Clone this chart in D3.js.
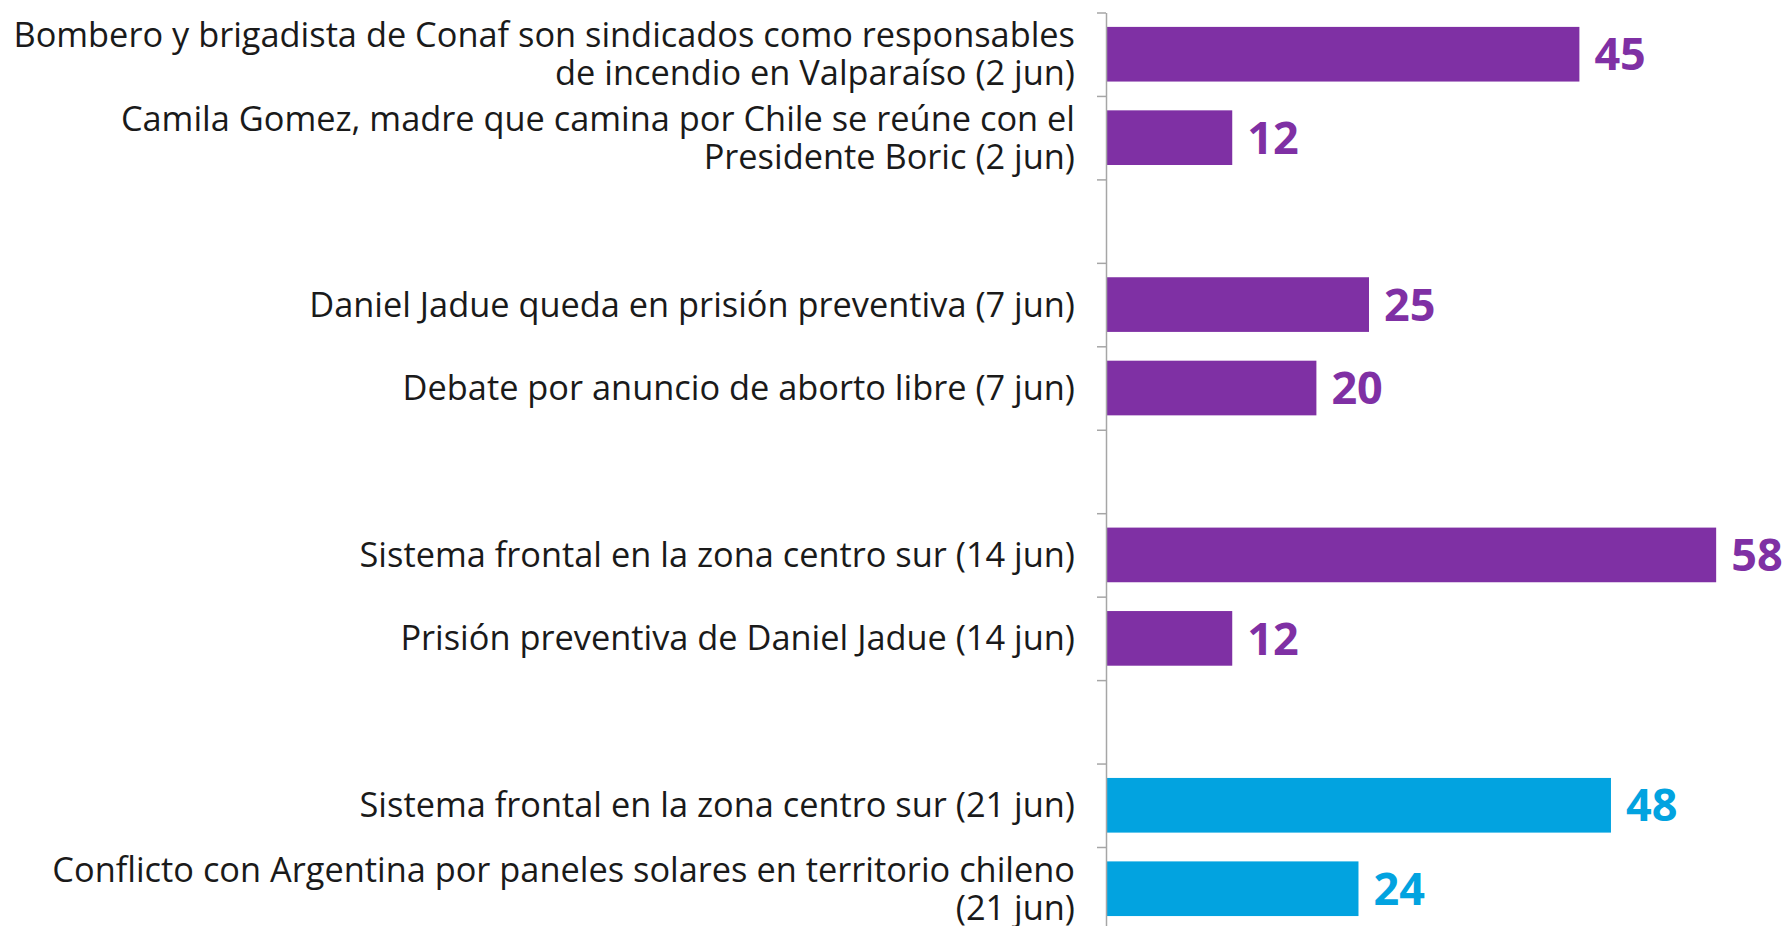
<!DOCTYPE html>
<html>
<head>
<meta charset="utf-8">
<script src="https://cdn.jsdelivr.net/npm/d3@7"></script>
<style>
  html, body { margin: 0; padding: 0; background: #ffffff; }
  svg { display: block; }
</style>
</head>
<body>
<svg id="chart" width="1788" height="926"></svg>
<script>
// ---- data ----
const labels = [
  ["Bombero y brigadista de Conaf son sindicados como responsables", "de incendio en Valparaíso (2 jun)"],
  ["Camila Gomez, madre que camina por Chile se reúne con el", "Presidente Boric (2 jun)"],
  ["Daniel Jadue queda en prisión preventiva (7 jun)"],
  ["Debate por anuncio de aborto libre (7 jun)"],
  ["Sistema frontal en la zona centro sur (14 jun)"],
  ["Prisión preventiva de Daniel Jadue (14 jun)"],
  ["Sistema frontal en la zona centro sur (21 jun)"],
  ["Conflicto con Argentina por paneles solares en territorio chileno", "(21 jun)"]
];
const values = [45, 12, 25, 20, 58, 12, 48, 24];
const weeks = ["2 jun", "2 jun", "7 jun", "7 jun", "14 jun", "14 jun", "21 jun", "21 jun"];
const currentWeek = "21 jun";

(function () {
// ---- build rows with a blank spacer between weeks ----
const rows = [];
labels.forEach((lab, i) => {
  if (i > 0 && weeks[i] !== weeks[i - 1]) rows.push({ key: "gap" + i, spacer: true });
  rows.push({ key: "item" + i, lines: lab, value: values[i], week: weeks[i] });
});
const items = rows.filter(r => !r.spacer);

const axisX = 1106;
const plotTop = 12.5, step = 83.45;
const n = rows.length;

const svg = d3.select("#chart");

const y = d3.scaleBand()
  .domain(rows.map(r => r.key))
  .range([plotTop, plotTop + n * step])
  .paddingInner(0.345)
  .paddingOuter(0.1725);

const yEdge = d3.scaleLinear().domain([0, n]).range([plotTop, plotTop + n * step]);

const x = d3.scaleLinear().domain([0, 60]).range([axisX, axisX + 60 * 10.52]);

const colorPurple = "#7F30A4";
const colorBlue = "#02A3E0";
const color = d => d.week === currentWeek ? colorBlue : colorPurple;

// bars
svg.append("g").selectAll("rect")
  .data(items)
  .join("rect")
  .attr("x", x(0))
  .attr("y", d => y(d.key))
  .attr("width", d => x(d.value) - x(0))
  .attr("height", y.bandwidth())
  .attr("fill", color);

// axis (ticks at band edges)
const axis = d3.axisLeft(yEdge)
  .tickValues(d3.range(0, n + 1))
  .tickFormat("")
  .tickSizeInner(9)
  .tickSizeOuter(0);
const gAxis = svg.append("g")
  .attr("transform", `translate(${axisX},0)`)
  .call(axis);
gAxis.select(".domain").attr("stroke", "#a6a6a6").attr("stroke-width", 1.5);
gAxis.selectAll(".tick line").attr("stroke", "#a6a6a6").attr("stroke-width", 1.5);

// value labels
svg.append("g").selectAll("text")
  .data(items)
  .join("text")
  .attr("x", d => x(d.value) + 15)
  .attr("y", d => y(d.key) + y.bandwidth() / 2)
  .attr("dy", "0.36em")
  .attr("font-family", "'Open Sans', 'DejaVu Sans', sans-serif")
  .attr("font-weight", 700)
  .attr("font-size", 45)
  .attr("fill", color)
  .text(d => d.value);

// category labels
const labelFont = "'Open Sans', 'DejaVu Sans', sans-serif";
let labelSize = 30;
const probe = svg.append("text").attr("font-family", labelFont).attr("font-size", labelSize)
  .text(labels[0][0]);
const measured = probe.node().getComputedTextLength();
probe.remove();
labelSize = labelSize * 1062 / measured;
const lineGap = 38;

const gLab = svg.append("g");
items.forEach(d => {
  const cy = y(d.key) + y.bandwidth() / 2;
  const nl = d.lines.length;
  const t = gLab.append("text")
    .attr("text-anchor", "end")
    .attr("font-family", labelFont)
    .attr("font-size", labelSize)
    .attr("fill", "#1a1a1a");
  d.lines.forEach((line, j) => {
    t.append("tspan")
      .attr("x", 1075)
      .attr("y", cy + (j - (nl - 1) / 2) * lineGap)
      .attr("dy", "0.35em")
      .text(line);
  });
});
})();
</script>
</body>
</html>
